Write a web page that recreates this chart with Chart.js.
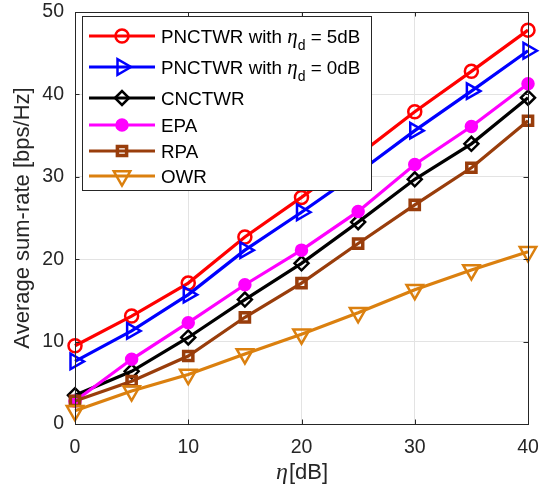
<!DOCTYPE html>
<html><head><meta charset="utf-8">
<script src="https://cdn.jsdelivr.net/npm/chart.js@4"></script>
<style>html,body{margin:0;padding:0;background:#fff}#wrap{width:543px;height:491px;position:relative}</style>
</head><body><div id="wrap"><canvas id="c" width="543" height="491"></canvas></div>
<script>
// SNR points (dB) and average sum-rate per scheme (bps/Hz)
const etaDb   = [0, 5, 10, 15, 20, 25, 30, 35, 40];
const pnctwr5 = [9.5, 13.1, 17.1, 22.7, 27.5, 32.6, 37.9, 42.8, 47.8];
const pnctwr0 = [7.6, 11.3, 15.7, 21.1, 25.7, 30.5, 35.6, 40.4, 45.3];
const cnctwr  = [3.5, 6.4, 10.5, 15.1, 19.5, 24.5, 29.7, 34.0, 39.6];
const epa     = [2.8, 7.85, 12.3, 16.9, 21.1, 25.8, 31.5, 36.1, 41.3];
const rpa     = [2.8, 5.2, 8.25, 12.95, 17.1, 21.9, 26.6, 31.1, 36.8];
const owr     = [1.6, 4.0, 6.0, 8.5, 10.9, 13.5, 16.3, 18.7, 20.9];
const xTicks  = [0, 10, 20, 30, 40];
const yTicks  = [0, 10, 20, 30, 40, 50];

// legend label pieces: [prefix, italic symbol, subscript, suffix]
const legendLabels = [
  ['PNCTWR with ', 'η', 'd', ' = 5dB'],
  ['PNCTWR with ', 'η', 'd', ' = 0dB'],
  ['CNCTWR'],
  ['EPA'],
  ['RPA'],
  ['OWR']
];

const SANS = '"Liberation Sans", Arial, Helvetica, sans-serif';
const SERIF = '"Liberation Serif", "DejaVu Serif", serif';
const AXIS_COLOR = '#262626';
const TICK_SIZE = 19.5;
const LABEL_SIZE = 22;
const LEGEND_SIZE = 18.8;
const HOLLOW = 'rgba(0,0,0,0)';

const styles = [
  { color: '#FF0000', pointStyle: 'circle',   rotation: 0,   radius: 6.5, fill: HOLLOW,    bw: 2.5 },
  { color: '#0000FF', pointStyle: 'triangle', rotation: 90,  radius: 9,   fill: HOLLOW,    bw: 2.5 },
  { color: '#000000', pointStyle: 'rectRot',  rotation: 0,   radius: 7,   fill: HOLLOW,    bw: 2.5 },
  { color: '#FF00FF', pointStyle: 'circle',   rotation: 0,   radius: 5.5, fill: '#FF00FF', bw: 2.5 },
  { color: '#993D0B', pointStyle: 'rect',     rotation: 0,   radius: 6.5, fill: HOLLOW,    bw: 3.5 },
  { color: '#DB800F', pointStyle: 'triangle', rotation: 180, radius: 9.5, fill: HOLLOW,    bw: 2.5 }
];
const series = [pnctwr5, pnctwr0, cnctwr, epa, rpa, owr];

const datasets = series.map((vals, i) => ({
  label: legendLabels[i].join(''),
  data: etaDb.map((x, k) => ({ x: x, y: vals[k] })),
  borderColor: styles[i].color,
  backgroundColor: styles[i].color,
  borderWidth: 3.2,
  pointStyle: styles[i].pointStyle,
  pointRotation: styles[i].rotation,
  pointRadius: styles[i].radius,
  pointBorderWidth: styles[i].bw,
  pointBorderColor: styles[i].color,
  pointBackgroundColor: styles[i].fill,
  tension: 0,
  clip: false,
  order: series.length - i
}));

// box, inward ticks, axis titles and legend
const decor = {
  id: 'decor',
  afterDraw(chart) {
    const ctx = chart.ctx;
    const a = chart.chartArea;
    const xs = chart.scales.x, ys = chart.scales.y;
    ctx.save();
    // axes box
    ctx.strokeStyle = AXIS_COLOR;
    ctx.lineWidth = 1;
    ctx.strokeRect(Math.round(a.left) + 0.5, Math.round(a.top) + 0.5,
                   Math.round(a.right - a.left), Math.round(a.bottom - a.top));
    // inward tick marks on all four sides
    const tl = 4.5;
    ctx.beginPath();
    xTicks.forEach(v => {
      const px = Math.round(xs.getPixelForValue(v)) + 0.5;
      ctx.moveTo(px, a.bottom); ctx.lineTo(px, a.bottom - tl);
      ctx.moveTo(px, a.top); ctx.lineTo(px, a.top + tl);
    });
    yTicks.forEach(v => {
      const py = Math.round(ys.getPixelForValue(v)) + 0.5;
      ctx.moveTo(a.left, py); ctx.lineTo(a.left + tl, py);
      ctx.moveTo(a.right, py); ctx.lineTo(a.right - tl, py);
    });
    ctx.stroke();

    // y-axis title
    ctx.fillStyle = AXIS_COLOR;
    ctx.font = LABEL_SIZE + 'px ' + SANS;
    ctx.textAlign = 'center';
    ctx.textBaseline = 'middle';
    ctx.save();
    ctx.translate(23, (a.top + a.bottom) / 2);
    ctx.rotate(-Math.PI / 2);
    ctx.fillText('Average sum-rate [bps/Hz]', 0, 0);
    ctx.restore();

    // x-axis title: italic eta followed by [dB]
    const cx = (a.left + a.right) / 2;
    const ty = 472;
    ctx.font = 'italic 24px ' + SERIF;
    const wEta = ctx.measureText('η').width;
    ctx.font = LABEL_SIZE + 'px ' + SANS;
    const wRest = ctx.measureText('[dB]').width;
    let x0 = cx - (wEta + wRest) / 2;
    ctx.textAlign = 'left';
    ctx.textBaseline = 'alphabetic';
    ctx.font = 'italic 24px ' + SERIF;
    ctx.fillText('η', x0, ty + 7);
    ctx.font = LABEL_SIZE + 'px ' + SANS;
    ctx.fillText('[dB]', x0 + wEta + 1, ty + 7);

    // legend
    const box = { l: 82, t: 16, r: 371, b: 190 };
    ctx.fillStyle = '#FFFFFF';
    ctx.fillRect(box.l, box.t, box.r - box.l, box.b - box.t);
    ctx.strokeStyle = AXIS_COLOR;
    ctx.lineWidth = 1;
    ctx.strokeRect(box.l + 0.5, box.t + 0.5, box.r - box.l, box.b - box.t);
    const rowsY = [36, 67, 98, 125, 151, 176];
    legendLabels.forEach((parts, i) => {
      const st = styles[i];
      const y = rowsY[i];
      ctx.strokeStyle = st.color;
      ctx.lineWidth = 3.2;
      ctx.beginPath();
      ctx.moveTo(89, y); ctx.lineTo(155, y);
      ctx.stroke();
      ctx.fillStyle = st.fill;
      ctx.strokeStyle = st.color;
      ctx.lineWidth = st.bw;
      Chart.helpers.drawPoint(ctx, {
        pointStyle: st.pointStyle, rotation: st.rotation,
        radius: st.radius, borderWidth: st.bw
      }, 122, y);
      // text
      ctx.fillStyle = '#000000';
      ctx.textAlign = 'left';
      ctx.textBaseline = 'alphabetic';
      const base = y + 6.5;
      let tx = 161;
      ctx.font = LEGEND_SIZE + 'px ' + SANS;
      ctx.fillText(parts[0], tx, base);
      tx += ctx.measureText(parts[0]).width;
      if (parts.length > 1) {
        ctx.font = 'italic 21px ' + SERIF;
        ctx.fillText(parts[1], tx, base);
        tx += ctx.measureText(parts[1]).width;
        ctx.font = '14px ' + SANS;
        ctx.fillText(parts[2], tx, base + 7);
        tx += ctx.measureText(parts[2]).width;
        ctx.font = LEGEND_SIZE + 'px ' + SANS;
        ctx.fillText(parts[3], tx, base);
      }
    });
    ctx.restore();
  }
};

new Chart(document.getElementById('c'), {
  type: 'line',
  data: { datasets: datasets },
  options: {
    responsive: false,
    animation: false,
    devicePixelRatio: 1,
    layout: { padding: { left: 0, right: 15, top: 9, bottom: 0 } },
    plugins: { legend: { display: false }, tooltip: { enabled: false } },
    scales: {
      x: {
        type: 'linear', min: 0, max: 40,
        afterFit(s) { s.height = 67; s.paddingLeft = 0; s.paddingRight = 0; },
        afterBuildTicks(s) { s.ticks = xTicks.map(v => ({ value: v })); },
        grid: { color: '#E3E3E3', lineWidth: 1, drawTicks: false },
        border: { display: false },
        ticks: { color: AXIS_COLOR, font: { family: SANS, size: TICK_SIZE }, padding: 12, maxRotation: 0 }
      },
      y: {
        type: 'linear', min: 0, max: 50,
        afterFit(s) { s.width = 75; s.paddingTop = 0; s.paddingBottom = 0; },
        afterBuildTicks(s) { s.ticks = yTicks.map(v => ({ value: v })); },
        grid: { color: '#E3E3E3', lineWidth: 1, drawTicks: false },
        border: { display: false },
        ticks: { color: AXIS_COLOR, font: { family: SANS, size: TICK_SIZE }, padding: 11 }
      }
    }
  },
  plugins: [decor]
});
</script>
</body></html>
